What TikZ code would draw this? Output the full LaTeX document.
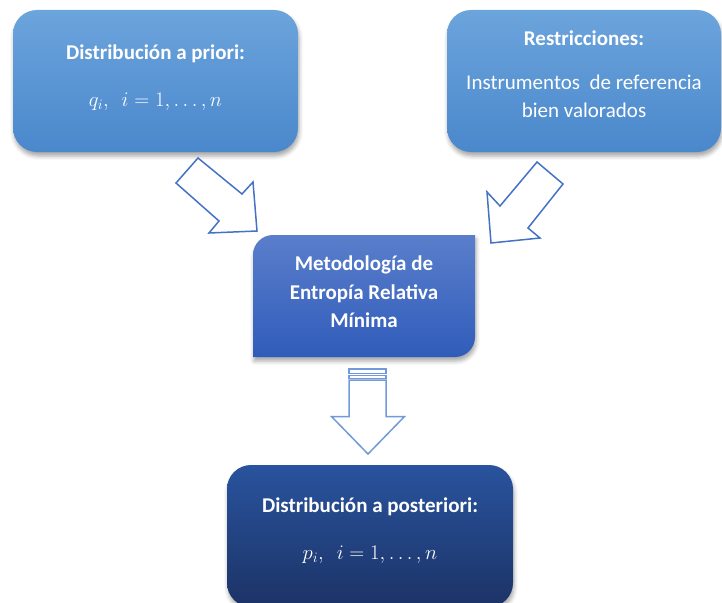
\documentclass[tikz,border=0pt]{standalone}
\usepackage{fontspec}
\setmainfont{Carlito}
\usetikzlibrary{shadows.blur}
\definecolor{lightA}{HTML}{6CA4DC}
\definecolor{lightB}{HTML}{4A88CC}
\definecolor{midA}{HTML}{5A7ECB}
\definecolor{midB}{HTML}{305CBA}
\definecolor{darkA}{HTML}{29539E}
\definecolor{darkB}{HTML}{1C3366}
\definecolor{arrowblue}{HTML}{4472C4}
\definecolor{downblue}{HTML}{7199DB}
\begin{document}
\begin{tikzpicture}[x=1pt,y=-1pt,
	softshadow/.style={blur shadow={shadow xshift=1pt,shadow yshift=-4pt,shadow opacity=35,shadow blur radius=4pt}},
	box/.style={rectangle,rounded corners=24pt,text=white,align=center,inner sep=0pt,
		font=\fontsize{21}{28}\selectfont,softshadow},
	boxtext/.style={text=white,align=center,font=\fontsize{21}{28.5}\selectfont\bfseries},
	blockarrow/.style={draw=arrowblue,fill=white,line width=1.5pt,line join=miter}]
				\useasboundingbox (0,0) rectangle (722,602);
				
				\node[box,top color=lightA,bottom color=lightB,minimum width=285pt,minimum height=142pt,text depth=11pt] (priori) at (155.5,81)
					{\textbf{Distribución a priori:}\\[19pt] $q_i,\ \ i=1,\ldots,n$};
				\node[box,top color=lightA,bottom color=lightB,minimum width=274pt,minimum height=142pt,text depth=14pt] (restric) at (584,81)
					{\textbf{Restricciones:}\\[16pt] Instrumentos\ \ de referencia\\ bien valorados};
				
				\shade[top color=midA,bottom color=midB,softshadow] (253,357) -- (253,255) arc[start angle=180,end angle=90,radius=20pt]
					-- (475,235) -- (475,337) arc[start angle=0,end angle=-90,radius=20pt] -- cycle;
				\node[boxtext] (metodo) at (364,292) {Metodología de\\ Entropía Relativa\\ Mínima};
				
				\node[box,top color=darkA,bottom color=darkB,minimum width=286pt,minimum height=142pt,text depth=15pt] (posteriori) at (370,536)
					{\textbf{Distribución a posteriori:}\\[19pt] $p_i,\ \ i=1,\ldots,n$};
				
				\draw[blockarrow] (198,158) -- (242,194) -- (253,182) -- (257,231) -- (209,233) -- (219,221) -- (176,183) -- cycle;
				\draw[blockarrow] (537,162) -- (563,184) -- (528,228) -- (540,238) -- (491,243) -- (487,192) -- (500,206) -- cycle;
				
				\draw[blockarrow,draw=downblue] (349,380) -- (349,416.5) -- (331.5,416.5) -- (368,454) -- (404.5,416.5) -- (386,416.5) -- (386,380) -- cycle;
				\draw[blockarrow,draw=downblue] (349,369) rectangle (386,373.5);
				\draw[blockarrow,draw=downblue] (349,375.5) rectangle (386,378.5);
				
			\end{tikzpicture}
\end{document}
